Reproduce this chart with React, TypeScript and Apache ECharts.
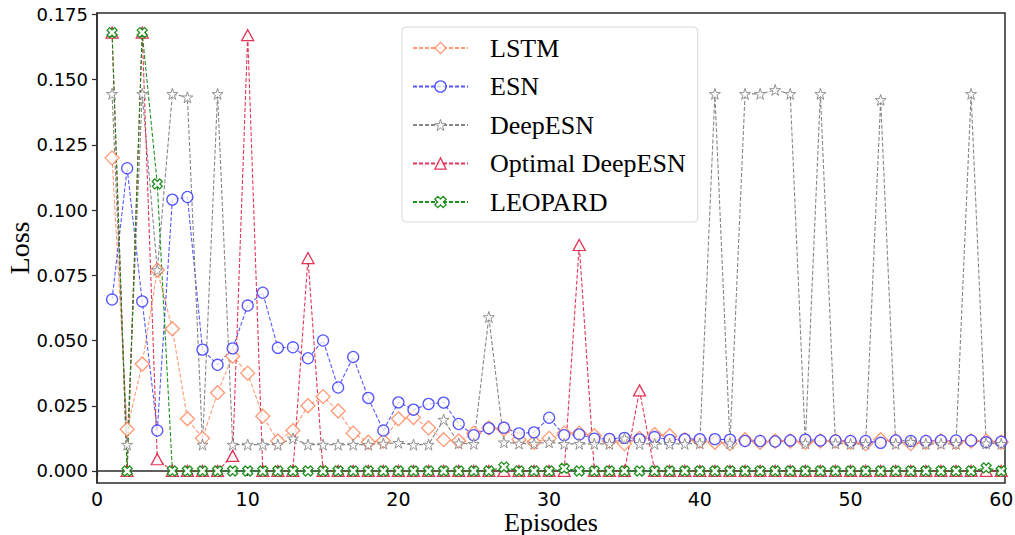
import React, { useEffect, useRef } from "react";
import * as echarts from "echarts";

const episodes: number[] = Array.from({ length: 60 }, (_, i) => i + 1);

const lstm: number[] = [
  0.120, 0.016, 0.041, 0.077, 0.0545, 0.020, 0.0125, 0.030, 0.044, 0.0375,
  0.021, 0.0115, 0.0155, 0.025, 0.0285, 0.023, 0.0145, 0.011, 0.0115, 0.020,
  0.0205, 0.0165, 0.012, 0.0115, 0.0145, 0.0165, 0.016, 0.012, 0.011, 0.0125,
  0.0145, 0.0145, 0.0135, 0.0115, 0.0105, 0.0125, 0.014, 0.0135, 0.012, 0.0115,
  0.011, 0.0105, 0.012, 0.011, 0.0115, 0.0115, 0.011, 0.0115, 0.0115, 0.011,
  0.0105, 0.012, 0.0115, 0.0105, 0.011, 0.0115, 0.011, 0.0115, 0.0115, 0.011,
];

const esn: number[] = [
  0.0657, 0.116, 0.065, 0.0155, 0.104, 0.105, 0.0465, 0.0407, 0.047, 0.0634,
  0.0683, 0.0472, 0.0474, 0.0432, 0.050, 0.032, 0.0437, 0.028, 0.0155, 0.0263,
  0.0235, 0.0257, 0.0262, 0.018, 0.0137, 0.0164, 0.0166, 0.0144, 0.0148, 0.0204,
  0.0137, 0.014, 0.0124, 0.0123, 0.0127, 0.0121, 0.013, 0.0119, 0.0122, 0.0122,
  0.0122, 0.012, 0.0115, 0.0115, 0.0113, 0.0117, 0.012, 0.0117, 0.0117, 0.0115,
  0.0115, 0.0108, 0.0117, 0.0115, 0.0115, 0.0117, 0.0117, 0.0117, 0.011, 0.0112,
];

const deepEsn: number[] = [
  0.1445, 0.0101, 0.1445, 0.077, 0.1445, 0.1432, 0.0101, 0.1445, 0.0101, 0.0101,
  0.0101, 0.0101, 0.0125, 0.0101, 0.0101, 0.0101, 0.0101, 0.0101, 0.0105, 0.0108,
  0.0101, 0.0101, 0.0197, 0.0106, 0.0104, 0.059, 0.011, 0.0105, 0.0105, 0.011,
  0.0104, 0.0104, 0.0104, 0.0104, 0.0125, 0.0104, 0.0104, 0.0104, 0.0104, 0.0106,
  0.1445, 0.0106, 0.1445, 0.1445, 0.146, 0.1445, 0.0106, 0.1445, 0.0106, 0.0104,
  0.0104, 0.1422, 0.0104, 0.0112, 0.0104, 0.0104, 0.0104, 0.1445, 0.0106, 0.0104,
];

const optimalDeepEsn: number[] = [
  0.168, 0, 0.168, 0.0045, 0, 0, 0, 0, 0.0058, 0.167,
  0, 0, 0, 0.0816, 0, 0, 0, 0, 0, 0,
  0, 0, 0, 0, 0, 0, 0, 0, 0, 0,
  0, 0.0866, 0, 0, 0, 0.0309, 0, 0, 0, 0,
  0, 0, 0, 0, 0, 0, 0, 0, 0, 0,
  0, 0, 0, 0, 0, 0, 0, 0, 0, 0,
];

const leopard: number[] = [
  0.168, 0, 0.168, 0.110, 0, 0, 0, 0, 0, 0,
  0, 0, 0, 0, 0, 0, 0, 0, 0, 0,
  0, 0, 0, 0, 0, 0, 0.0015, 0, 0, 0,
  0.001, 0, 0, 0, 0, 0, 0, 0, 0, 0,
  0, 0, 0, 0, 0, 0, 0, 0, 0, 0,
  0, 0, 0, 0, 0, 0, 0, 0, 0.0012, 0,
];

const xTicks: number[] = [0, 10, 20, 30, 40, 50, 60];
const yTicks: number[] = [0, 0.025, 0.05, 0.075, 0.1, 0.125, 0.15, 0.175];

const STAR =
  "path://M0 -100 L22.5 -30.9 L95.1 -30.9 L36.3 11.8 L58.8 80.9 L0 38.2 L-58.8 80.9 L-36.3 11.8 L-95.1 -30.9 L-22.5 -30.9 Z";
const XMARK =
  "path://M46 -95 L95 -46 L50 0 L95 46 L46 95 L0 50 L-46 95 L-95 46 L-50 0 L-95 -46 L-46 -95 L0 -50 Z";

const pairs = (vals: number[]) => episodes.map((e, i) => [e, vals[i]]);

type Spec = {
  name: string;
  vals: number[];
  color: string;
  symbol: string;
  size: number | number[];
  opacity: number;
  bw: number;
};

const specs: Spec[] = [
  { name: "LSTM", vals: lstm, color: "#ff7f50", symbol: "diamond", size: 14, opacity: 0.8, bw: 1.3 },
  { name: "ESN", vals: esn, color: "#1f1fff", symbol: "circle", size: 11, opacity: 0.75, bw: 1.3 },
  { name: "DeepESN", vals: deepEsn, color: "#7a7a7a", symbol: STAR, size: 11, opacity: 0.9, bw: 0.9 },
  { name: "Optimal DeepESN", vals: optimalDeepEsn, color: "#dc143c", symbol: "triangle", size: [12, 11], opacity: 0.85, bw: 1.3 },
  { name: "LEOPARD", vals: leopard, color: "#138a13", symbol: XMARK, size: 10, opacity: 0.95, bw: 1.3 },
];

function mkSeries(s: Spec) {
  return {
    name: s.name,
    type: "line",
    data: pairs(s.vals),
    color: s.color,
    symbol: s.symbol,
    symbolSize: s.size,
    showAllSymbol: true,
    lineStyle: { color: s.color, width: 1.1, type: [4, 2], opacity: s.opacity },
    itemStyle: { color: "#ffffff", borderColor: s.color, borderWidth: s.bw, opacity: s.opacity },
    emphasis: { disabled: true },
  };
}

export default function App() {
  const ref = useRef<HTMLDivElement>(null);
  useEffect(() => {
    if (!ref.current) return;
    const chart = echarts.init(ref.current, undefined, { renderer: "svg" });
    chart.setOption({
      animation: false,
      backgroundColor: "#ffffff",
      grid: {
        left: 97,
        right: 10,
        top: 13,
        bottom: 52,
        outerBoundsMode: "none",
        containLabel: false,
        show: true,
        borderColor: "#2b2b2b",
        borderWidth: 1.5,
        backgroundColor: "transparent",
      },
      xAxis: {
        type: "value",
        min: 0,
        max: 60.25,
        name: "Episodes",
        nameLocation: "middle",
        nameGap: 26,
        nameMoveOverlap: false,
        nameTextStyle: { fontFamily: "Liberation Serif", fontSize: 26, lineHeight: 26, color: "#000" },
        splitLine: { show: false },
        axisLine: { show: true, lineStyle: { color: "#2b2b2b", width: 1.5 } },
        axisTick: {
          show: true,
          length: 5,
          customValues: xTicks,
          lineStyle: { color: "#2b2b2b", width: 1.2 },
        },
        axisLabel: {
          customValues: xTicks,
          margin: 6,
          fontFamily: "DejaVu Sans",
          fontSize: 19,
          color: "#000",
        },
      },
      yAxis: {
        type: "value",
        min: -0.0046,
        max: 0.1755,
        name: "Loss",
        nameLocation: "middle",
        nameGap: 64,
        nameMoveOverlap: false,
        nameTextStyle: { fontFamily: "Liberation Serif", fontSize: 28, color: "#000" },
        splitLine: { show: false },
        axisLine: { show: true, lineStyle: { color: "#2b2b2b", width: 1.5 } },
        axisTick: {
          show: true,
          length: 5,
          customValues: yTicks,
          lineStyle: { color: "#2b2b2b", width: 1.2 },
        },
        axisLabel: {
          customValues: yTicks,
          margin: 9,
          fontFamily: "DejaVu Sans",
          fontSize: 18,
          color: "#000",
          formatter: (v: number) => v.toFixed(3),
        },
      },
      legend: {
        orient: "vertical",
        left: 402,
        top: 27,
        padding: [8, 12, 7, 10],
        itemWidth: 55,
        itemHeight: 14,
        itemGap: 12.5,
        borderColor: "#d9d9d9",
        borderWidth: 1,
        borderRadius: 4,
        backgroundColor: "rgba(255,255,255,0.8)",
        textStyle: {
          fontFamily: "Liberation Serif",
          fontSize: 26,
          lineHeight: 26,
          color: "#000",
          padding: [0, 0, 0, 17],
        },
        data: specs.map((s) => ({
          name: s.name,
          itemStyle: { color: "#ffffff", borderColor: s.color, borderWidth: s.bw },
        })),
      },
      series: specs.map(mkSeries),
    });
    return () => chart.dispose();
  }, []);
  return (
    <div
      ref={ref}
      style={{ position: "fixed", left: 0, top: 0, width: 1015, height: 535 }}
    />
  );
}
